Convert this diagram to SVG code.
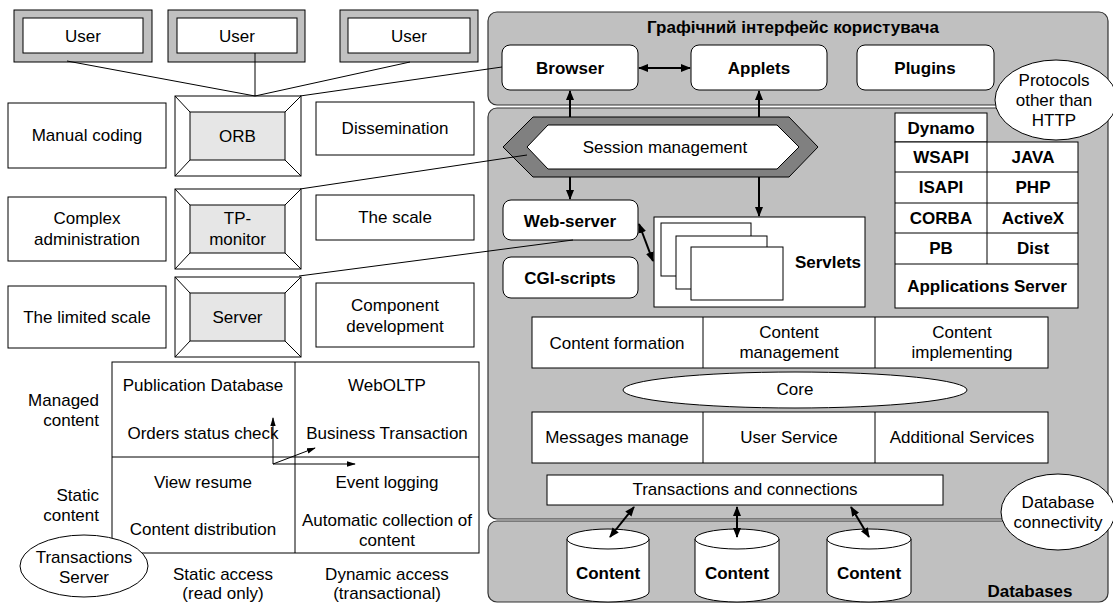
<svg xmlns="http://www.w3.org/2000/svg" width="1113" height="604" viewBox="0 0 1113 604">
<defs>
<style>
text{font-family:"Liberation Sans",Arial,sans-serif;font-size:17px;fill:#000;text-anchor:middle;dominant-baseline:central}
.b{font-weight:bold}
.r{text-anchor:end}
.box{fill:#fff;stroke:#000;stroke-width:1}
.panel{fill:#c0c0c0;stroke:#333;stroke-width:1.2}
.rb{fill:#fff;stroke:#000;stroke-width:1}
.inner{fill:#e6e6e6;stroke:#000;stroke-width:1}
.ln{stroke:#000;stroke-width:1;fill:none}
.ar{stroke:#000;stroke-width:2;fill:none}
</style>
<marker id="ah" viewBox="0 0 10 10" refX="9" refY="5" markerWidth="10" markerHeight="10" markerUnits="userSpaceOnUse" orient="auto-start-reverse"><path d="M0,1 L10,5 L0,9 z" fill="#000"/></marker>
<marker id="as" viewBox="0 0 10 10" refX="9" refY="5" markerWidth="9" markerHeight="9" markerUnits="userSpaceOnUse" orient="auto"><path d="M0,2 L10,5 L0,8 z" fill="#000"/></marker>
</defs>
<rect width="1113" height="604" fill="#fff"/>

<!-- right panels -->
<g id="gui-panel">
<rect class="panel" x="488" y="12" width="620" height="93" rx="9"/>
<text class="b" x="793" y="27">Графічний інтерфейс користувача</text>
</g>
<g id="main-panel"><rect class="panel" x="488" y="108" width="620" height="411" rx="9"/></g>
<g id="db-panel">
<rect class="panel" x="488" y="521" width="620" height="81" rx="9"/>
<text class="b" x="1030" y="591">Databases</text>
</g>

<!-- users -->
<g id="user1"><rect x="14" y="10" width="138" height="52" fill="#c0c0c0" stroke="#000"/><rect class="box" x="23" y="18" width="120" height="35"/><text x="83" y="36">User</text></g>
<g id="user2"><rect x="168" y="10" width="137" height="52" fill="#c0c0c0" stroke="#000"/><rect class="box" x="177" y="18" width="120" height="35"/><text x="237" y="36">User</text></g>
<g id="user3"><rect x="340" y="10" width="138" height="52" fill="#c0c0c0" stroke="#000"/><rect class="box" x="348" y="18" width="122" height="35"/><text x="409" y="36">User</text></g>

<!-- left boxes -->
<g id="manual-coding"><rect class="box" x="8" y="103" width="158" height="65"/><text x="87" y="135">Manual coding</text></g>
<g id="complex-admin"><rect class="box" x="8" y="197" width="158" height="64"/><text x="87" y="218">Complex</text><text x="87" y="239">administration</text></g>
<g id="limited-scale"><rect class="box" x="8" y="286" width="158" height="62"/><text x="87" y="317">The limited scale</text></g>

<g id="dissemination"><rect class="box" x="316" y="102" width="158" height="53"/><text x="395" y="128">Dissemination</text></g>
<g id="the-scale"><rect class="box" x="316" y="195" width="158" height="45"/><text x="395" y="217">The scale</text></g>
<g id="component-dev"><rect class="box" x="316" y="283" width="158" height="64"/><text x="395" y="305">Component</text><text x="395" y="326">development</text></g>

<!-- bevel frames -->
<g id="orb">
<rect class="box" x="175" y="96" width="126" height="80"/>
<rect class="inner" x="190" y="112" width="95" height="48"/>
<path class="ln" d="M175,96 L190,112 M301,96 L285,112 M175,176 L190,160 M301,176 L285,160"/>
<text x="237.5" y="136">ORB</text>
</g>
<g id="tp-monitor">
<rect class="box" x="175" y="189" width="126" height="80"/>
<rect class="inner" x="190" y="205" width="95" height="48"/>
<path class="ln" d="M175,189 L190,205 M301,189 L285,205 M175,269 L190,253 M301,269 L285,253"/>
<text x="237.5" y="218">TP-</text><text x="237.5" y="239">monitor</text>
</g>
<g id="server">
<rect class="box" x="175" y="277" width="126" height="80"/>
<rect class="inner" x="190" y="293" width="95" height="48"/>
<path class="ln" d="M175,277 L190,293 M301,277 L285,293 M175,357 L190,341 M301,357 L285,341"/>
<text x="237.5" y="317">Server</text>
</g>

<!-- grid -->
<g id="content-grid">
<rect class="box" x="112" y="362" width="367" height="191"/>
<path class="ln" d="M295,362 V553 M112,457 H479"/>
<text x="203" y="385">Publication Database</text>
<text x="203" y="433">Orders status check</text>
<text x="387" y="385">WebOLTP</text>
<text x="387" y="433">Business Transaction</text>
<text x="203" y="482">View resume</text>
<text x="203" y="529">Content distribution</text>
<text x="387" y="482">Event logging</text>
<text x="387" y="520">Automatic collection of</text>
<text x="387" y="540">content</text>
<text class="r" x="99" y="400">Managed</text>
<text class="r" x="99" y="420">content</text>
<text class="r" x="99" y="495">Static</text>
<text class="r" x="99" y="515">content</text>
<text x="223" y="574">Static access</text>
<text x="223" y="593">(read only)</text>
<text x="387" y="574">Dynamic access</text>
<text x="387" y="593">(transactional)</text>
</g>
<g id="transactions-server"><ellipse cx="84" cy="566" rx="64" ry="31" fill="#fff" stroke="#000"/><text x="84" y="557">Transactions</text><text x="84" y="577">Server</text></g>

<!-- GUI boxes -->
<g id="browser"><rect class="rb" x="502" y="45" width="136" height="45" rx="8"/><text class="b" x="570" y="68">Browser</text></g>
<g id="applets"><rect class="rb" x="691" y="45" width="136" height="45" rx="8"/><text class="b" x="759" y="68">Applets</text></g>
<g id="plugins"><rect class="rb" x="857" y="45" width="137" height="45" rx="8"/><text class="b" x="925" y="68">Plugins</text></g>
<g id="protocols"><ellipse cx="1056" cy="100" rx="61" ry="40" fill="#fff" stroke="#000"/><text x="1054" y="80">Protocols</text><text x="1054" y="100">other than</text><text x="1054" y="120">HTTP</text></g>

<!-- session -->
<g id="session">
<path d="M503,147 L533,117 L789,117 L818,147 L789,177 L533,177 Z" fill="#808080" stroke="#000"/>
<path d="M527,147 L548,125 L777,125 L799,147 L777,169 L548,169 Z" fill="#fff" stroke="#000"/>
<text x="665" y="147">Session management</text>
</g>

<g id="web-server"><rect class="rb" x="503" y="200" width="135" height="40" rx="8"/><text class="b" x="570" y="221">Web-server</text></g>
<g id="cgi"><rect class="rb" x="503" y="257" width="135" height="41" rx="8"/><text class="b" x="570" y="278">CGI-scripts</text></g>

<g id="servlets">
<rect class="box" x="654" y="217" width="211" height="90"/>
<rect class="box" x="661" y="223" width="90" height="53"/>
<rect class="box" x="676" y="236" width="91" height="53"/>
<rect class="box" x="691" y="247" width="92" height="53"/>
<text class="b" x="828" y="262">Servlets</text>
</g>

<g id="app-server">
<rect class="box" x="895" y="113" width="92" height="29"/>
<rect class="box" x="895" y="142" width="183" height="166"/>
<path class="ln" d="M895,172 H1078 M895,203 H1078 M895,233 H1078 M895,264 H1078 M987,142 V264"/>
<text class="b" x="941" y="128">Dynamo</text>
<text class="b" x="941" y="157">WSAPI</text><text class="b" x="1033" y="157">JAVA</text>
<text class="b" x="941" y="187">ISAPI</text><text class="b" x="1033" y="187">PHP</text>
<text class="b" x="941" y="218">CORBA</text><text class="b" x="1033" y="218">ActiveX</text>
<text class="b" x="941" y="248">PB</text><text class="b" x="1033" y="248">Dist</text>
<text class="b" x="987" y="286">Applications Server</text>
</g>

<g id="content-row">
<rect class="box" x="532" y="317" width="516" height="51"/>
<path class="ln" d="M703,317 V368 M875,317 V368"/>
<text x="617" y="343">Content formation</text>
<text x="789" y="332">Content</text><text x="789" y="352">management</text>
<text x="962" y="332">Content</text><text x="962" y="352">implementing</text>
</g>
<g id="core"><ellipse cx="795" cy="390" rx="172" ry="18" fill="#fff" stroke="#000"/><text x="795" y="389">Core</text></g>
<g id="services-row">
<rect class="box" x="532" y="412" width="516" height="51"/>
<path class="ln" d="M703,412 V463 M875,412 V463"/>
<text x="617" y="437">Messages manage</text>
<text x="789" y="437">User Service</text>
<text x="962" y="437">Additional Services</text>
</g>
<g id="transactions"><rect class="box" x="547" y="475" width="396" height="30"/><text x="745" y="489">Transactions and connections</text></g>
<g id="db-connectivity"><ellipse cx="1058" cy="512" rx="57" ry="38" fill="#fff" stroke="#000"/><text x="1058" y="502">Database</text><text x="1058" y="522">connectivity</text></g>

<g id="content1"><path d="M567,539 V592 A41,10 0 0 0 649,592 V539" fill="#fff" stroke="#000"/><ellipse cx="608" cy="539" rx="41" ry="10" fill="#fff" stroke="#000"/><text class="b" x="608" y="573">Content</text></g>
<g id="content2"><path d="M695,539 V592 A42,10 0 0 0 779,592 V539" fill="#fff" stroke="#000"/><ellipse cx="737" cy="539" rx="42" ry="10" fill="#fff" stroke="#000"/><text class="b" x="737" y="573">Content</text></g>
<g id="content3"><path d="M827,539 V592 A42,10 0 0 0 911,592 V539" fill="#fff" stroke="#000"/><ellipse cx="869" cy="539" rx="42" ry="10" fill="#fff" stroke="#000"/><text class="b" x="869" y="573">Content</text></g>

<!-- connectors -->
<g id="connectors">
<path class="ln" d="M67,61 L255,96 M255,53 V96 M410,62 L255,96"/>
<path class="ln" d="M300,96 L502,67"/>
<path class="ln" d="M300,189 L527,155"/>
<path class="ln" d="M299,276 L573,240"/>
<line class="ar" x1="639" y1="68" x2="690" y2="68" marker-start="url(#ah)" marker-end="url(#ah)"/>
<line class="ar" x1="570" y1="117" x2="570" y2="91" marker-end="url(#ah)"/>
<line class="ar" x1="759" y1="117" x2="759" y2="91" marker-end="url(#ah)"/>
<line class="ar" x1="570" y1="177" x2="570" y2="199" marker-end="url(#ah)"/>
<line class="ar" x1="759" y1="177" x2="759" y2="216" marker-end="url(#ah)"/>
<line class="ar" x1="639" y1="224" x2="653" y2="261" marker-start="url(#ah)" marker-end="url(#ah)"/>
<line class="ar" x1="634" y1="507" x2="610" y2="537" marker-start="url(#ah)" marker-end="url(#ah)"/>
<line class="ar" x1="737" y1="507" x2="737" y2="537" marker-start="url(#ah)" marker-end="url(#ah)"/>
<line class="ar" x1="851" y1="507" x2="869" y2="537" marker-start="url(#ah)" marker-end="url(#ah)"/>
<line class="ln" x1="273" y1="464" x2="273" y2="418" marker-end="url(#as)"/>
<line class="ln" x1="273" y1="464" x2="355" y2="464" marker-end="url(#as)"/>
<line class="ln" x1="273" y1="464" x2="315" y2="448" marker-end="url(#as)"/>
</g>
</svg>
